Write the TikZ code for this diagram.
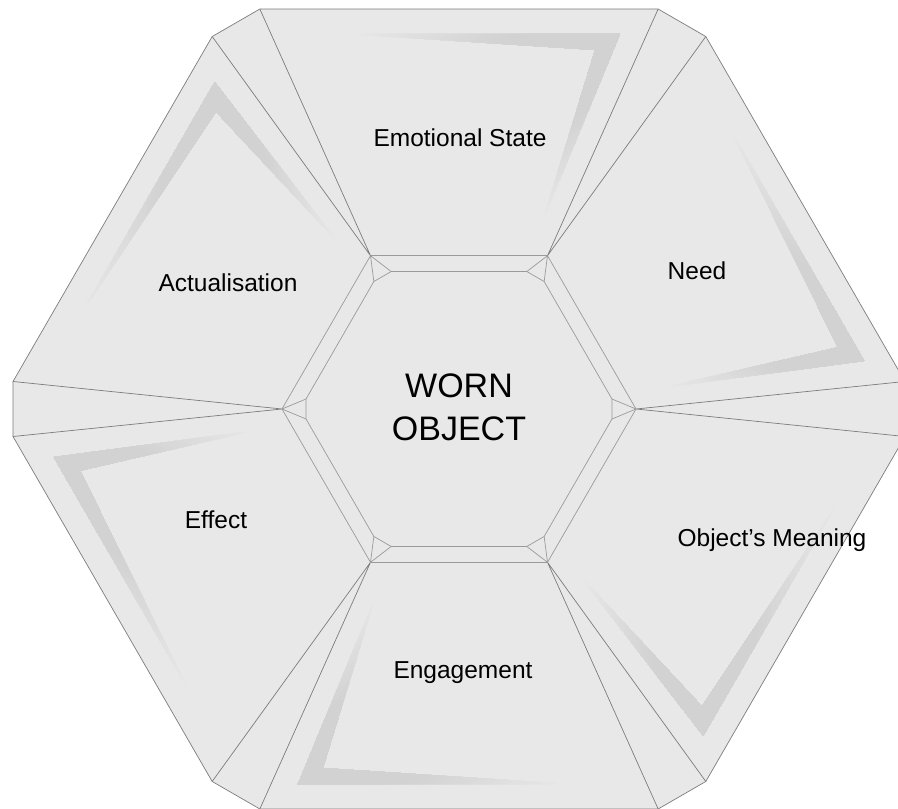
\documentclass[tikz,border=0pt]{standalone}
\usepackage{fontspec}
\setmainfont{Liberation Sans}
\usetikzlibrary{calc}
\definecolor{panelfill}{HTML}{E8E8E8}
\definecolor{ribbon}{HTML}{D2D2D2}
\definecolor{edgegray}{HTML}{7C7C7C}
\definecolor{bandgray}{HTML}{9A9A9A}
\tikzset{
  edge/.style={draw=edgegray, line width=0.7pt, line join=round},
  band/.style={draw=bandgray, line width=0.7pt, line join=round},
  sector label/.style={font=\fontsize{24.5}{29}\selectfont, text=black, inner sep=0pt},
  core label/.style={font=\fontsize{34}{43}\selectfont, text=black, align=center, inner sep=0pt},
}
\begin{document}
\begin{tikzpicture}[x=1pt,y=1pt]
\useasboundingbox (-459,-400) rectangle (439,409);
\clip (-459,-400) rectangle (439,409);
\fill[white] (-459,-400) rectangle (439,409);

% corner points: outer cut hexagon, middle hexagon, inner cut hexagon
\foreach \k in {0,...,5} {
  \coordinate (oa\k) at ({60*\k-3.53}:446.85);
  \coordinate (ob\k) at ({60*\k+3.53}:446.85);
  \coordinate (m\k)  at ({60*\k}:177);
  \coordinate (ia\k) at ({60*\k-3.74}:153.3);
  \coordinate (ib\k) at ({60*\k+3.74}:153.3);
}

% outer frame
\draw[edge, fill=panelfill] (oa0) -- (ob0) -- (oa1) -- (ob1) -- (oa2) -- (ob2)
  -- (oa3) -- (ob3) -- (oa4) -- (ob4) -- (oa5) -- (ob5) -- cycle;

% fading chevron ribbons, one per sector
\foreach \k in {0,...,5} {
  \begin{scope}[rotate=60*\k]
    \coordinate (ra) at (-112,375);
    \coordinate (rb) at (161,375);
    \coordinate (rc) at (83,186);
    \coordinate (rd) at (136,359);
  \end{scope}
  \foreach \s in {0,...,29} {
    \pgfmathsetmacro\t{\s/30}
    \pgfmathtruncatemacro\p{min(100,\s*100/30*1.7)}
    \fill[ribbon!\p!panelfill] ($(ra)!\t!(rb)$) -- (rb) -- (rd) -- ($(ra)!\t!(rd)$) -- cycle;
    \fill[ribbon!\p!panelfill] ($(rc)!\t!(rb)$) -- (rb) -- (rd) -- ($(rc)!\t!(rd)$) -- cycle;
  }
}

% sector dividers and the band around the centre
\foreach \k [evaluate=\k as \n using {int(mod(\k+1,6))}] in {0,...,5} {
  \draw[edge] (oa\k) -- (m\k) -- (ob\k);
  \draw[band] (ia\k) -- (m\k) -- (ib\k);
  \draw[band] (m\k) -- (m\n);
}
\draw[band] (ia0) -- (ib0) -- (ia1) -- (ib1) -- (ia2) -- (ib2)
  -- (ia3) -- (ib3) -- (ia4) -- (ib4) -- (ia5) -- (ib5) -- cycle;

% labels
\node[core label] (core) at (0,2) {WORN\\OBJECT};
\node[sector label] (emotion) at (1,271) {Emotional State};
\node[sector label] (need) at (238,138) {Need};
\node[sector label] (actual) at (-231,126) {Actualisation};
\node[sector label] (effect) at (-243,-111) {Effect};
\node[sector label] (meaning) at (313,-131) {Object’s Meaning};
\node[sector label] (engage) at (4,-264) {Engagement};
\end{tikzpicture}
\end{document}
